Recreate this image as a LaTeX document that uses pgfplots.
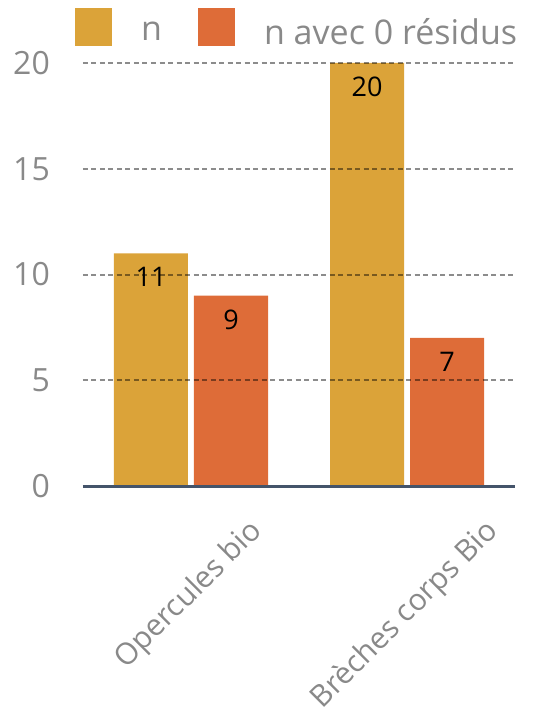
\documentclass[border=0pt]{standalone}
\usepackage{pgfplots}
\pgfplotsset{compat=1.18}
\usepackage{fontspec}
\setmainfont{Open Sans}
\definecolor{cGold}{RGB}{219,163,57}
\definecolor{cOrange}{RGB}{222,108,56}
\definecolor{cText}{RGB}{137,137,137}
\definecolor{cAxis}{RGB}{68,84,106}
\begin{document}
\begin{tikzpicture}
\begin{axis}[
  scale only axis,
  width=432pt, height=423pt,
  ybar=6pt, bar width=74pt,
  xmin=-0.5, xmax=1.5,
  ymin=0, ymax=20,
  xtick={0}, xticklabels={Opercules bio},
  extra x ticks={1}, extra x tick labels={Brèches corps Bio},
  extra x tick style={grid=none, major tick length=0pt,
     xticklabel style={xshift=14pt, yshift=-14pt}},
  ytick={0,5,10,15,20},
  major tick length=0pt,
  axis x line*=bottom, axis y line*=left,
  x axis line style={draw=cAxis, line width=3pt, -},
  y axis line style={draw=none},
  ymajorgrids, xmajorgrids=false,
  grid style={dash pattern=on 5pt off 3.5pt, line width=2pt, color=black, opacity=0.45},
  axis on top,
  /pgf/number format/assume math mode=true,
  tick label style={font=\fontsize{32}{40}\selectfont, text=cText},
  yticklabel style={anchor=east, inner sep=0pt, xshift=-33pt},
  xticklabel style={font=\fontsize{30}{36}\selectfont, xshift=56pt, yshift=-30pt, rotate=45, anchor=north east, inner sep=0pt},
  nodes near coords,
  every node near coord/.append style={anchor=north, inner sep=0pt, yshift=-14pt, text=black, font=\fontsize{27}{32}\selectfont},
  legend style={draw=none, fill=none, font=\fontsize{34}{40}\selectfont, text=cText,
     at={(axis description cs:0,1)}, anchor=south west, xshift=-11pt, yshift=13pt,
     legend columns=-1,
     /tikz/every odd column/.append style={column sep=27pt},
     /tikz/every even column/.append style={column sep=34pt}},
  legend image code/.code={\fill[#1, draw=none] (0pt,-14pt) rectangle (37pt,24pt);},
]
\addplot[fill=cGold, draw=none] coordinates {(0,11) (1,20)};
\addplot[fill=cOrange, draw=none] coordinates {(0,9) (1,7)};
\legend{n, n avec 0 résidus}
\end{axis}
\pgfresetboundingbox
\path (-83pt,-226pt) rectangle (469pt,486pt);
\end{tikzpicture}
\end{document}
